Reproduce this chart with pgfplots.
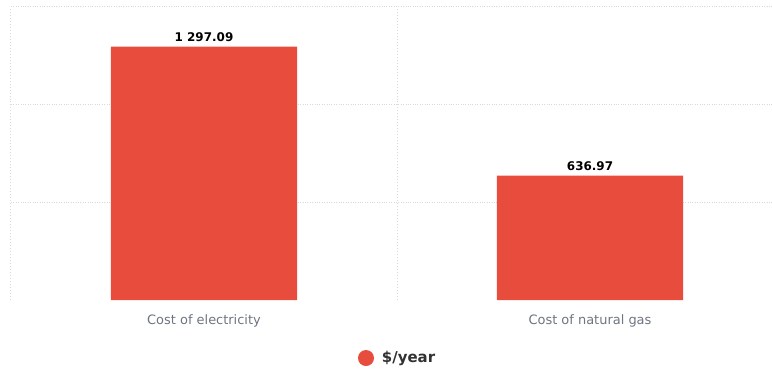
\documentclass[border=0pt]{standalone}
\usepackage{pgfplots}
\pgfplotsset{compat=1.18}
\usepackage{fontspec}
\setmainfont{DejaVu Sans}
\definecolor{barred}{RGB}{231,76,60}
\definecolor{ticklab}{RGB}{110,116,128}
\definecolor{gridc}{RGB}{218,218,218}
\definecolor{legtext}{RGB}{50,50,50}
\begin{document}
\begin{tikzpicture}
\path[use as bounding box] (-11bp,-71bp) rectangle (761bp,300bp);
\begin{axis}[
  scale only axis, width=761bp, height=293bp,
  xmin=-0.5, xmax=1.4715, ymin=0, ymax=1500,
  axis line style={draw=none},
  major tick length=0pt,
  xtick={0,1}, xticklabels={Cost of electricity, Cost of natural gas},
  xticklabel style={font=\fontsize{13}{15}\selectfont, text=ticklab, yshift=-11bp},
  extra x ticks={-0.5,0.5}, extra x tick labels={},
  extra x tick style={grid=major, major grid style={gridc, dotted, line width=1bp}},
  ytick={500,1000,1500}, yticklabels={},
  ymajorgrids,
  major grid style={gridc, dotted, line width=1bp},
  ybar, bar width=0.482,
  nodes near coords,
  nodes near coords style={font=\bfseries\fontsize{12}{14}\selectfont, text=black, yshift=1.5bp},
  /pgf/number format/.cd, fixed, fixed zerofill, precision=2, 1000 sep={\ }, assume math mode=true,
  /pgfplots/.cd,
  legend style={draw=none, at={(0.508,-0.198)}, anchor=center,
    font=\bfseries\fontsize{15}{17}\selectfont, text=legtext},
  legend image code/.code={\fill[barred] (0,0) circle (8bp); \path (14bp,0);},
]
\addplot[fill=barred, draw=none] coordinates {(0,1297.09) (1,636.97)};
\addlegendentry{\$/year}
\end{axis}
\end{tikzpicture}
\end{document}
